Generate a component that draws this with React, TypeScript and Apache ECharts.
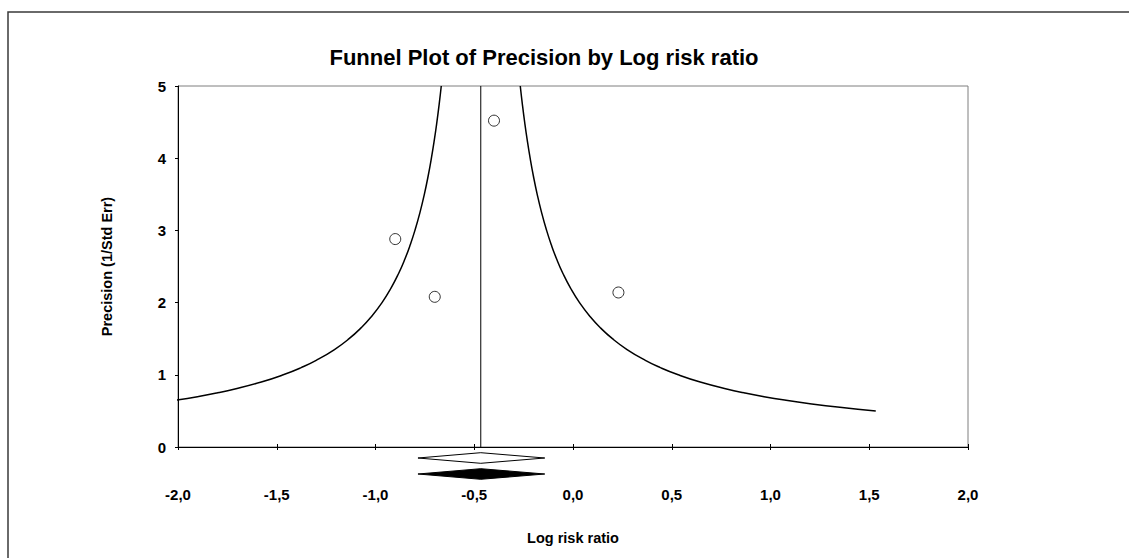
import React, { useEffect, useRef } from "react";
import * as echarts from "echarts";

const titleText = "Funnel Plot of Precision by Log risk ratio";
const xAxisName = "Log risk ratio";
const yAxisName = "Precision (1/Std Err)";

// studies: log risk ratio and precision (1/SE)
const studyLogRR = [-0.4, -0.9, -0.7, 0.23];
const studyPrecision = [4.52, 2.88, 2.08, 2.14];

// pooled estimate and its confidence interval (observed and adjusted)
const pooledMean = -0.467;
const observedCI = [-0.785, -0.143];
const adjustedCI = [-0.785, -0.143];

// funnel limits: mean ± 1/precision, sampled over precision from 0.5 to 5
const funnelPrecision = [
  0.5, 0.55, 0.6, 0.65, 0.7, 0.75, 0.8, 0.9, 1.0, 1.1, 1.2, 1.35, 1.5, 1.65,
  1.8, 2.0, 2.2, 2.4, 2.6, 2.8, 3.0, 3.25, 3.5, 3.75, 4.0, 4.25, 4.5, 4.75, 5.0,
];

const xMin = -2;
const xMax = 2;
const xStep = 0.5;
const yMin = 0;
const yMax = 5;
const yStep = 1;

const FONT = "'Liberation Sans', Arial, sans-serif";

export default function App() {
  const ref = useRef<HTMLDivElement>(null);

  useEffect(() => {
    if (!ref.current) return;
    const chart = echarts.init(ref.current, undefined, { renderer: "svg" });

    const leftCurve = funnelPrecision.map((p) => [pooledMean - 1 / p, p]);
    const rightCurve = funnelPrecision.map((p) => [pooledMean + 1 / p, p]);
    const studies = studyLogRR.map((x, i) => [x, studyPrecision[i]]);
    const diamonds = [
      [observedCI[0], pooledMean, observedCI[1], 0],
      [adjustedCI[0], pooledMean, adjustedCI[1], 1],
    ];

    const option: any = {
      animation: false,
      backgroundColor: "#ffffff",
      textStyle: { fontFamily: FONT },
      title: {
        text: titleText,
        left: 544,
        top: 46,
        textAlign: "center",
        padding: 0,
        textStyle: {
          fontFamily: FONT,
          fontSize: 22,
          fontWeight: "bold",
          color: "#000",
        },
      },
      graphic: [
        {
          type: "rect",
          silent: true,
          shape: { x: 8, y: 12, width: 1300, height: 700 },
          style: { fill: "none", stroke: "#3a3a3a", lineWidth: 1.5 },
        },
      ],
      grid: {
        left: 178,
        right: 161,
        top: 86,
        bottom: 111,
        show: true,
        borderColor: "#7f7f7f",
        borderWidth: 1,
        backgroundColor: "transparent",
      },
      xAxis: [
        {
          type: "value",
          min: xMin,
          max: xMax,
          interval: xStep,
          name: xAxisName,
          nameLocation: "middle",
          nameGap: 83,
          nameTextStyle: {
            fontFamily: FONT,
            fontSize: 14.5,
            fontWeight: "bold",
            color: "#000",
          },
          axisLine: { show: true, onZero: false, lineStyle: { color: "#000", width: 1 } },
          axisTick: { show: true, inside: false, length: 3, lineStyle: { color: "#000" } },
          axisLabel: {
            margin: 40,
            fontFamily: FONT,
            fontSize: 15,
            fontWeight: "bold",
            color: "#000",
            formatter: (v: number) => v.toFixed(1).replace(".", ","),
          },
          splitLine: { show: false },
        },
        {
          type: "value",
          min: xMin,
          max: xMax,
          interval: xStep,
          position: "bottom",
          axisLine: { show: false },
          axisTick: { show: true, inside: true, length: 3, lineStyle: { color: "#000" } },
          axisLabel: { show: false },
          splitLine: { show: false },
        },
      ],
      yAxis: {
        type: "value",
        min: yMin,
        max: yMax,
        interval: yStep,
        name: yAxisName,
        nameLocation: "middle",
        nameGap: 64,
        nameTextStyle: {
          fontFamily: FONT,
          fontSize: 14.5,
          fontWeight: "bold",
          color: "#000",
        },
        axisLine: { show: true, onZero: false, lineStyle: { color: "#000", width: 1 } },
        axisTick: { show: true, inside: false, length: 3, lineStyle: { color: "#000" } },
        axisLabel: {
          margin: 12,
          fontFamily: FONT,
          fontSize: 15,
          fontWeight: "bold",
          color: "#000",
        },
        splitLine: { show: false },
      },
      series: [
        {
          type: "line",
          data: leftCurve,
          showSymbol: false,
          smooth: true,
          clip: true,
          lineStyle: { color: "#000", width: 1.5 },
          silent: true,
        },
        {
          type: "line",
          data: rightCurve,
          showSymbol: false,
          smooth: true,
          clip: true,
          lineStyle: { color: "#000", width: 1.5 },
          silent: true,
        },
        {
          type: "line",
          data: [
            [pooledMean, yMin],
            [pooledMean, yMax],
          ],
          showSymbol: false,
          lineStyle: { color: "#000", width: 1 },
          silent: true,
        },
        {
          type: "scatter",
          data: studies,
          symbol: "circle",
          symbolSize: 11,
          itemStyle: { color: "#fff", borderColor: "#000", borderWidth: 1 },
          z: 5,
        },
        {
          type: "custom",
          clip: false,
          data: diamonds,
          renderItem: (params: any, api: any) => {
            const lo = api.coord([api.value(0), yMin]);
            const mid = api.coord([api.value(1), yMin]);
            const hi = api.coord([api.value(2), yMin]);
            const filled = api.value(3) === 1;
            const cy = mid[1] + (filled ? 27 : 11);
            const h = 5.3;
            return {
              type: "polygon",
              shape: {
                points: [
                  [lo[0], cy],
                  [mid[0], cy - h],
                  [hi[0], cy],
                  [mid[0], cy + h],
                ],
              },
              style: {
                fill: filled ? "#000" : "#fff",
                stroke: "#000",
                lineWidth: 1,
              },
            };
          },
        },
      ],
    };

    chart.setOption(option);
    return () => chart.dispose();
  }, []);

  return (
    <div
      ref={ref}
      style={{ position: "fixed", left: 0, top: 0, width: 1129, height: 558, background: "#fff" }}
    />
  );
}
